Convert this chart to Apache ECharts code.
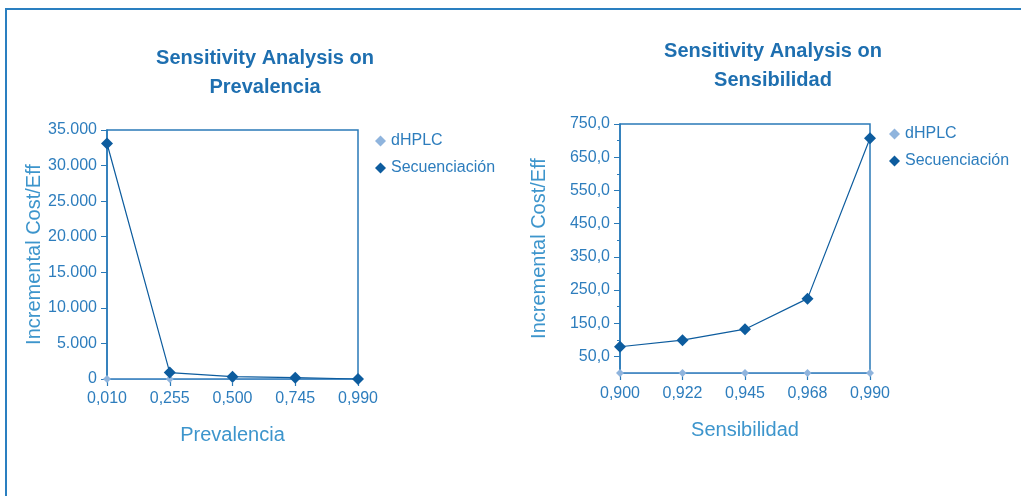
<!DOCTYPE html>
<html>
<head>
<meta charset="utf-8">
<script src="https://cdn.jsdelivr.net/npm/echarts@6/dist/echarts.min.js"></script>
<style>
html,body{margin:0;padding:0;background:#fff;}
#c{width:1021px;height:496px;}
</style>
</head>
<body>
<div id="c"></div>
<script>
// Left chart: Sensitivity Analysis on Prevalencia
const prevCategories = ['0,010', '0,255', '0,500', '0,745', '0,990'];
const prevSecuenciacion = [33100, 900, 330, 180, 0];
const prevDhplc = [0, 0, 0, 0, 0];

// Right chart: Sensitivity Analysis on Sensibilidad
const sensCategories = ['0,900', '0,922', '0,945', '0,968', '0,990'];
const sensSecuenciacion = [79, 99, 132, 224, 707];
const sensDhplc = [0, 0, 0, 0, 0];
const sensLabelValues = [50, 150, 250, 350, 450, 550, 650, 750];

const FONT = '"Liberation Sans", Arial, sans-serif';
const AXIS = '#2a7ab8';
const LABEL = '#2d7dbd';
const NAMEC = '#3d95cc';
const TITLE = '#1e6fb0';
const DARK = '#0d5c9e';
const LIGHT = '#8fb4dd';

function xAxisCfg(gridIndex, data, name, gap, margin) {
  return {
    type: 'category', gridIndex, data, boundaryGap: false,
    name, nameLocation: 'middle', nameGap: gap,
    nameTextStyle: {color: NAMEC, fontSize: 20, fontFamily: FONT},
    axisLine: {lineStyle: {color: AXIS, width: 1.5}},
    axisTick: {show: true, interval: 0, length: 7, lineStyle: {color: AXIS, width: 1.2}},
    axisLabel: {color: LABEL, fontSize: 16, fontFamily: FONT, margin: margin, interval: 0},
    splitLine: {show: false}
  };
}

const chart = echarts.init(document.getElementById('c'));
chart.setOption({
  animation: false,
  backgroundColor: '#fff',
  graphic: [{
    type: 'rect', shape: {x: 6, y: 9, width: 1100, height: 600},
    style: {fill: 'none', stroke: '#2a7fc0', lineWidth: 2}, silent: true
  }],
  title: [
    {text: 'Sensitivity Analysis on\nPrevalencia', left: 260, top: 39, textAlign: 'center',
     textStyle: {color: TITLE, fontSize: 20, fontWeight: 'bold', fontFamily: FONT, lineHeight: 29}},
    {text: 'Sensitivity Analysis on\nSensibilidad', left: 768, top: 32, textAlign: 'center',
     textStyle: {color: TITLE, fontSize: 20, fontWeight: 'bold', fontFamily: FONT, lineHeight: 29}}
  ],
  legend: [
    {left: 370, top: 128, orient: 'vertical', itemGap: 11, itemWidth: 11, itemHeight: 11,
     textStyle: {color: LABEL, fontSize: 16, fontFamily: FONT},
     data: [{name: 'dHPLC', icon: 'diamond', itemStyle: {color: LIGHT}},
            {name: 'Secuenciación', icon: 'diamond', itemStyle: {color: DARK}}]},
    {left: 884, top: 121, orient: 'vertical', itemGap: 11, itemWidth: 11, itemHeight: 11,
     textStyle: {color: LABEL, fontSize: 16, fontFamily: FONT},
     data: [{name: 'dHPLC', icon: 'diamond', itemStyle: {color: LIGHT}},
            {name: 'Secuenciación', icon: 'diamond', itemStyle: {color: DARK}}]}
  ],
  grid: [
    {left: 107, top: 130, width: 251, height: 249, show: true, borderColor: AXIS, borderWidth: 1.5, backgroundColor: 'transparent'},
    {left: 620, top: 124, width: 250, height: 249, show: true, borderColor: AXIS, borderWidth: 1.5, backgroundColor: 'transparent'}
  ],
  xAxis: [
    xAxisCfg(0, prevCategories, 'Prevalencia', 46, 12),
    xAxisCfg(1, sensCategories, 'Sensibilidad', 47, 13)
  ],
  yAxis: [
    {type: 'value', gridIndex: 0, position: 'left', min: 0, max: 35000, interval: 5000,
     name: 'Incremental Cost/Eff', nameLocation: 'middle', nameGap: 57,
     nameTextStyle: {color: NAMEC, fontSize: 20, fontFamily: FONT},
     axisLine: {show: true, lineStyle: {color: AXIS, width: 1.5}},
     axisTick: {show: true, length: 6, lineStyle: {color: AXIS}},
     axisLabel: {color: LABEL, fontSize: 16, fontFamily: FONT, margin: 10,
       formatter: v => v === 0 ? '0' : String(v).replace(/\B(?=(\d{3})+(?!\d))/g, '.')},
     splitLine: {show: false}},
    {type: 'value', gridIndex: 1, position: 'left', min: 0, max: 750, interval: 50,
     name: 'Incremental Cost/Eff', nameLocation: 'middle', nameGap: 71,
     nameTextStyle: {color: NAMEC, fontSize: 20, fontFamily: FONT},
     axisLine: {show: true, lineStyle: {color: AXIS, width: 1.5}},
     axisTick: {show: true, length: 6, lineStyle: {color: AXIS}, customValues: sensLabelValues},
     axisLabel: {color: LABEL, fontSize: 16, fontFamily: FONT, margin: 10,
       customValues: sensLabelValues,
       formatter: v => v.toFixed(1).replace('.', ',')},
     splitLine: {show: false}},
    {type: 'value', gridIndex: 1, position: 'left', offset: 0, min: 0, max: 750, interval: 50,
     axisLine: {show: false},
     axisTick: {show: true, length: 3, lineStyle: {color: AXIS}},
     axisLabel: {show: false},
     splitLine: {show: false}}
  ],
  series: [
    {name: 'dHPLC', type: 'line', xAxisIndex: 0, yAxisIndex: 0, data: prevDhplc,
     symbol: 'diamond', symbolSize: 8, itemStyle: {color: LIGHT}, lineStyle: {color: LIGHT, width: 1}, z: 2},
    {name: 'Secuenciación', type: 'line', xAxisIndex: 0, yAxisIndex: 0, data: prevSecuenciacion,
     symbol: 'diamond', symbolSize: 12, itemStyle: {color: DARK}, lineStyle: {color: DARK, width: 1.2}, z: 3},
    {name: 'dHPLC', type: 'line', xAxisIndex: 1, yAxisIndex: 1, data: sensDhplc,
     symbol: 'diamond', symbolSize: 8, itemStyle: {color: LIGHT}, lineStyle: {color: LIGHT, width: 1}, z: 2},
    {name: 'Secuenciación', type: 'line', xAxisIndex: 1, yAxisIndex: 1, data: sensSecuenciacion,
     symbol: 'diamond', symbolSize: 12, itemStyle: {color: DARK}, lineStyle: {color: DARK, width: 1.2}, z: 3}
  ]
});
</script>
</body>
</html>
